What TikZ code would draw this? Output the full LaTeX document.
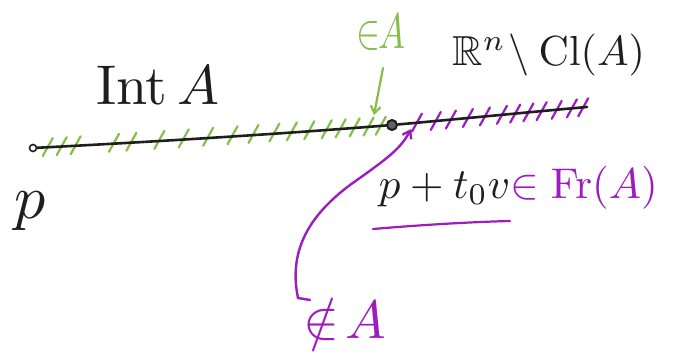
\documentclass[tikz,border=0pt]{standalone}
\usepackage{amssymb}
\usetikzlibrary{arrows.meta}
\definecolor{hgreen}{RGB}{134,190,74}
\definecolor{hpurple}{RGB}{158,28,190}
\definecolor{hink}{RGB}{30,30,30}
\tikzset{
  inkline/.style={draw=hink,line width=2.6pt,line cap=round},
  hatchg/.style={draw=hgreen,line width=2.2pt,line cap=round},
  hatchp/.style={draw=hpurple,line width=2.2pt,line cap=round},
  garrow/.style={draw=hgreen,line width=2.2pt,line cap=round,-{Straight Barb[length=7pt,width=10pt]}},
  parrow/.style={draw=hpurple,line width=2.4pt,line cap=round,-{Straight Barb[length=7pt,width=10pt]}},
  smalldot/.style={circle,draw=hink,line width=1.6pt,minimum size=7pt,inner sep=0pt},
  bigdot/.style={circle,draw=hink,fill=hink!70,line width=2pt,minimum size=10pt,inner sep=0pt},
  lbl/.style={inner sep=0pt,anchor=base west}
}
\begin{document}
\begin{tikzpicture}[x=1pt,y=-1pt]
\useasboundingbox (0,0) rectangle (684,358);
% points on the line
\node[smalldot] (p0) at (33,148) {};
\node[bigdot] (b) at (392,125) {};
\coordinate (e) at (587,107);
% hatching (under the line)
\foreach \t in {0.03,0.07,0.11,0.22,0.27,0.35,0.42,0.49,0.56,0.62,0.68,0.73,0.78,0.83,0.87,0.91,0.95,0.985}{
  \path (p0) -- (b) coordinate[pos=\t] (h);
  \draw[hatchg] ([shift={(-5,9)}]h) -- ([shift={(5,-9)}]h);
}
\foreach \t in {0.1,0.2,0.28,0.37,0.46,0.55,0.62,0.69,0.76,0.84,0.92,0.98}{
  \path (b) -- (e) coordinate[pos=\t] (h);
  \draw[hatchp] ([shift={(-5,9)}]h) -- ([shift={(5,-9)}]h);
}
% the line
\draw[inkline] (p0) .. controls (150,142) and (280,134) .. (b);
\draw[inkline] (b) .. controls (470,118) and (530,112) .. (e);
% labels
\node[lbl,text=hink,scale=5.6] (intA) at (95,105) {$\mathrm{Int}\,A$};
\node[lbl,text=hink,scale=6.2] (plabel) at (13,218) {$p$};
\node[lbl,text=hgreen,xscale=3.6,yscale=5] (inA) at (356,49) {$\in\!\!A$};
\node[lbl,text=hink,scale=4.2] (comp) at (452,66) {$\mathbb{R}^n\!\setminus\mathrm{Cl}(A)$};
\node[lbl,text=hink,scale=4.3] (pt) at (378,198) {$p+t_0v{\color{hpurple}\in\mathrm{Fr}(A)}$};
\node[lbl,text=hpurple,scale=5.4] (notA) at (302,338) {$\notin\! A$};
% green arrow
\coordinate (gs) at (383,68);
\coordinate (ge) at (374,115);
\draw[garrow] (gs) -- (ge);
% purple underline
\coordinate (u1) at (373,229);
\coordinate (u2) at (510,221);
\draw[hpurple,line width=2.2pt,line cap=round] (u1) .. controls (420,225) and (470,222) .. (u2);
% purple arrow
\coordinate (hk) at (310,300);
\coordinate (pe) at (411,129);
\draw[parrow] (hk) -- (298,298) .. controls (288,250) and (310,215) .. (350,185) .. controls (385,160) and (400,150) .. (pe);
\end{tikzpicture}
\end{document}
